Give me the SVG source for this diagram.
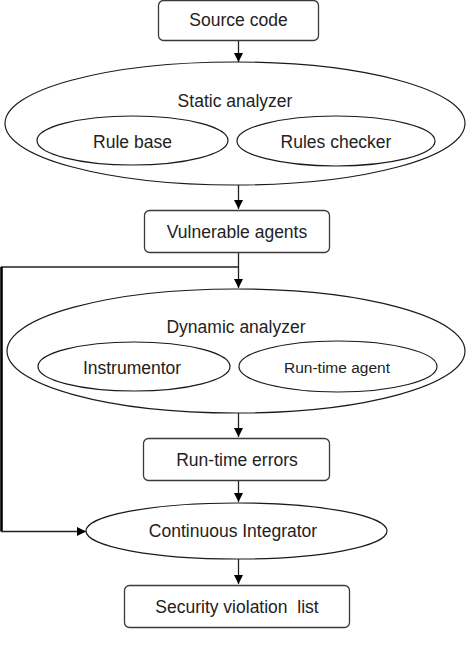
<svg xmlns="http://www.w3.org/2000/svg" width="467" height="651" viewBox="0 0 467 651">
<style>
.box{fill:#fff;stroke:#3a3a3a;stroke-width:1.3}
.ell{fill:#fff;stroke:#1a1a1a;stroke-width:1.2}
.t{font-family:"Liberation Sans",Arial,sans-serif;font-size:17.5px;fill:#222;text-anchor:middle}
.ts{font-family:"Liberation Sans",Arial,sans-serif;font-size:15.5px;fill:#222;text-anchor:middle}
.c{fill:none;stroke:#222;stroke-width:1.3}
</style>
<defs>
<marker id="ah" markerWidth="10" markerHeight="10" refX="9" refY="5" orient="auto" markerUnits="userSpaceOnUse">
<path d="M0,0.5 L9,5 L0,9.5 Z" fill="#000"/>
</marker>
</defs>
<rect width="467" height="651" fill="#fff"/>
<g id="connectors">
<line class="c" x1="238.5" y1="41" x2="238.5" y2="62" marker-end="url(#ah)"/>
<line class="c" x1="238.5" y1="185" x2="238.5" y2="209" marker-end="url(#ah)"/>
<line class="c" x1="238.5" y1="253" x2="238.5" y2="288" marker-end="url(#ah)"/>
<line class="c" x1="238.5" y1="413" x2="238.5" y2="437" marker-end="url(#ah)"/>
<line class="c" x1="238.5" y1="481" x2="238.5" y2="502" marker-end="url(#ah)"/>
<line class="c" x1="238.5" y1="559" x2="238.5" y2="584" marker-end="url(#ah)"/>
<polyline class="c" points="238.5,267 1.5,267 1.5,531.5"/>
<line x1="1.5" y1="267" x2="1.5" y2="531.5" stroke="#000" stroke-width="2.5"/>
<line class="c" x1="1.5" y1="531.5" x2="86" y2="531.5" marker-end="url(#ah)"/>
</g>
<g id="source-code">
<rect class="box" x="158.5" y="0.5" width="160" height="40" rx="5"/>
<text class="t" x="238.5" y="26">Source code</text>
</g>
<g id="static-analyzer">
<ellipse class="ell" cx="235" cy="123.5" rx="230" ry="61.5"/>
<text class="t" x="235" y="106.5">Static analyzer</text>
</g>
<g id="rule-base">
<ellipse class="ell" cx="132.5" cy="140.5" rx="95.5" ry="24.5"/>
<text class="t" x="132.5" y="148">Rule base</text>
</g>
<g id="rules-checker">
<ellipse class="ell" cx="336" cy="141" rx="99" ry="25"/>
<text class="t" x="336" y="148">Rules checker</text>
</g>
<g id="vulnerable-agents">
<rect class="box" x="144.5" y="210.5" width="185" height="42" rx="5"/>
<text class="t" x="237" y="237.5">Vulnerable agents</text>
</g>
<g id="dynamic-analyzer">
<ellipse class="ell" cx="236" cy="351" rx="229" ry="62"/>
<text class="t" x="236" y="332.5">Dynamic analyzer</text>
</g>
<g id="instrumentor">
<ellipse class="ell" cx="134" cy="366.5" rx="96" ry="24.5"/>
<text class="t" x="132" y="373.5">Instrumentor</text>
</g>
<g id="run-time-agent">
<ellipse class="ell" cx="338" cy="366.5" rx="99" ry="25.5"/>
<text class="ts" x="337" y="372.5">Run-time agent</text>
</g>
<g id="run-time-errors">
<rect class="box" x="143.5" y="438.5" width="186" height="42" rx="5"/>
<text class="t" x="237" y="466">Run-time errors</text>
</g>
<g id="continuous-integrator">
<ellipse class="ell" cx="236.5" cy="531" rx="150.5" ry="28"/>
<text class="t" x="233" y="537">Continuous Integrator</text>
</g>
<g id="security-violation-list">
<rect class="box" x="124.5" y="585.5" width="225" height="42" rx="5"/>
<text class="t" x="237" y="612.5" xml:space="preserve">Security violation  list</text>
</g>
</svg>
